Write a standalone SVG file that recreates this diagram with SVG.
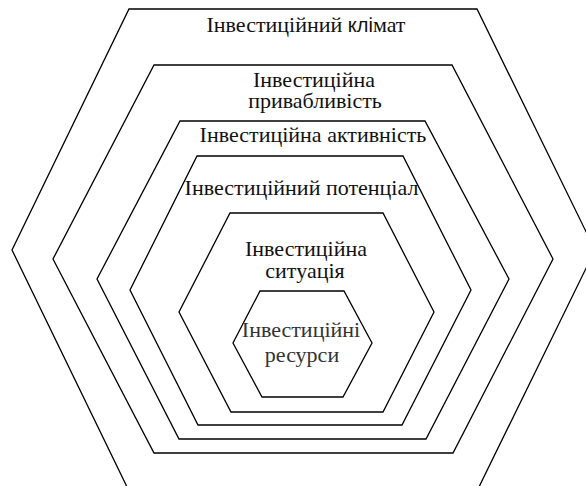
<svg xmlns="http://www.w3.org/2000/svg" width="586" height="486" viewBox="0 0 586 486">
<rect width="586" height="486" fill="#fff"/>
<g id="shapes" fill="none" stroke="#000" stroke-width="1.3">
<polygon id="hex-klimat" points="129,9 477,9 595,250 477,491 129,491 12,250"/>
<polygon id="hex-pryvablyvist" points="154,65 452,65 553,259 453,453 154,453 53,259"/>
<polygon id="hex-aktyvnist" points="180,121 425,121 509,279 426,439 179,439 97,279"/>
<polygon id="hex-potentsial" points="197,156 403,156 471,290 402,425 198,425 130,290"/>
<polygon id="hex-sytuatsiia" points="230,213 383,213 434,312 383,412 231,412 179,312"/>
<polygon id="hex-resursy" points="260,291 344,291 372,343 343,397 262,397 233,343"/>
</g>
<g id="klimat">
<text x="306" y="32" font-family="Times New Roman" font-size="22" text-anchor="middle" fill="#111">Інвестиційний <tspan font-family="Liberation Sans" font-size="20">клі</tspan>мат</text>
</g>
<g id="pryvablyvist">
<text x="314" y="87" font-family="Times New Roman" font-size="22" text-anchor="middle" fill="#111">Інвестиційна</text>
<text x="315" y="108" font-family="Times New Roman" font-size="22" text-anchor="middle" fill="#111">привабливість</text>
</g>
<g id="aktyvnist">
<text x="313" y="142" font-family="Times New Roman" font-size="22" text-anchor="middle" fill="#111">Інвестиційна активність</text>
</g>
<g id="potentsial">
<text x="301.5" y="195" font-family="Times New Roman" font-size="22" text-anchor="middle" fill="#111">Інвестиційний потенціал</text>
</g>
<g id="sytuatsiia">
<text x="306" y="256" font-family="Times New Roman" font-size="22" text-anchor="middle" fill="#111">Інвестиційна</text>
<text x="305" y="278" font-family="Times New Roman" font-size="22" text-anchor="middle" fill="#111">ситуація</text>
</g>
<g id="resursy">
<text x="301" y="337" font-family="Times New Roman" font-size="22" text-anchor="middle" fill="#333">Інвестиційні</text>
<text x="302" y="362" font-family="Times New Roman" font-size="22" text-anchor="middle" fill="#333">ресурси</text>
</g>
</svg>
